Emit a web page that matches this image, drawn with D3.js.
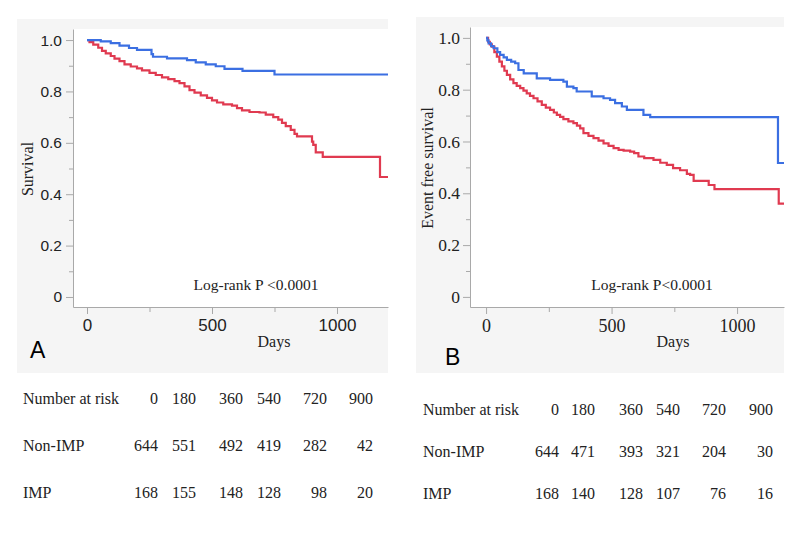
<!DOCTYPE html>
<html lang="en">

<head>
	<title>Kaplan-Meier curves</title>
	<meta charset="utf-8">
	<script src="https://d3js.org/d3.v7.min.js"></script>
	<style>
		body {
			margin: 0;
			background: #fff;
		}

		svg {
			display: block;
		}

		.serif {
			font-family: "Liberation Serif", "Times New Roman", serif;
			fill: #222;
		}

		.sans {
			font-family: "Liberation Sans", Arial, sans-serif;
			fill: #222;
		}

		.axis path,
		.axis line {
			stroke: #a9a9a9;
			stroke-width: 1;
		}

		.axis-b text {
			font-family: "Liberation Serif", "Times New Roman", serif !important;
		}
	</style>
</head>

<body>
	<div id="chart"></div>
	<script>
		// Data
		const panelLetters = ["A", "B"];
		const yTitles = ["Survival", "Event free survival"];
		const pLabels = ["Log-rank P <0.0001", "Log-rank P<0.0001"];
		const xTitle = "Days";
		const yTicks = [0, 0.2, 0.4, 0.6, 0.8, 1.0];
		const yMinorTicks = [0.1, 0.3, 0.5, 0.7, 0.9];
		const xTicks = [0, 500, 1000];
		const xMinorTicks = [250, 750];

		const riskTitle = "Number at risk";
		const riskGroups = ["Non-IMP", "IMP"];
		const riskDays = [0, 180, 360, 540, 720, 900];
		const riskNonImpA = [644, 551, 492, 419, 282, 42];
		const riskImpA = [168, 155, 148, 128, 98, 20];
		const riskNonImpB = [644, 471, 393, 321, 204, 30];
		const riskImpB = [168, 140, 128, 107, 76, 16];

		// [day, survival] steps
		const blueA = [[0, 1.000], [55, 0.995], [95, 0.988], [130, 0.978], [168, 0.969], [200, 0.962], [258, 0.945], [264, 0.935], [320, 0.929], [400, 0.922], [435, 0.913], [475, 0.905], [515, 0.898], [550, 0.888], [622, 0.880], [750, 0.866], [1204, 0.866]];
		const redA = [[0, 1.000], [10, 0.992], [25, 0.982], [45, 0.970], [60, 0.958], [75, 0.948], [95, 0.938], [110, 0.928], [130, 0.918], [150, 0.905], [175, 0.897], [200, 0.890], [220, 0.882], [250, 0.872], [275, 0.864], [300, 0.855], [325, 0.848], [350, 0.840], [370, 0.832], [390, 0.820], [410, 0.805], [430, 0.795], [455, 0.785], [480, 0.775], [500, 0.765], [520, 0.757], [545, 0.750], [580, 0.745], [600, 0.735], [620, 0.726], [650, 0.720], [690, 0.718], [715, 0.710], [745, 0.700], [765, 0.690], [780, 0.678], [795, 0.665], [815, 0.650], [830, 0.635], [840, 0.625], [900, 0.605], [905, 0.592], [915, 0.563], [943, 0.545], [1172, 0.467], [1204, 0.467]];
		const blueB = [[0, 1.000], [5, 0.990], [10, 0.979], [20, 0.968], [30, 0.960], [45, 0.945], [56, 0.934], [70, 0.925], [83, 0.915], [100, 0.908], [116, 0.902], [129, 0.876], [150, 0.863], [202, 0.844], [255, 0.838], [308, 0.831], [322, 0.812], [348, 0.806], [361, 0.793], [421, 0.774], [468, 0.767], [494, 0.761], [514, 0.748], [541, 0.735], [561, 0.722], [627, 0.703], [654, 0.694], [1163, 0.517], [1187, 0.517]];
		const redB = [[0, 1.000], [8, 0.985], [15, 0.975], [23, 0.966], [33, 0.945], [43, 0.928], [53, 0.908], [63, 0.890], [73, 0.873], [83, 0.857], [96, 0.840], [109, 0.825], [122, 0.815], [136, 0.806], [149, 0.796], [162, 0.786], [175, 0.776], [189, 0.767], [205, 0.755], [222, 0.741], [238, 0.731], [255, 0.722], [270, 0.712], [282, 0.703], [295, 0.695], [308, 0.686], [328, 0.678], [348, 0.671], [362, 0.661], [375, 0.651], [388, 0.632], [408, 0.622], [428, 0.613], [448, 0.603], [468, 0.593], [488, 0.583], [508, 0.574], [528, 0.568], [548, 0.565], [574, 0.561], [590, 0.555], [607, 0.542], [630, 0.536], [667, 0.529], [694, 0.518], [720, 0.510], [745, 0.497], [773, 0.489], [800, 0.475], [813, 0.471], [827, 0.448], [887, 0.432], [910, 0.416], [1166, 0.360], [1187, 0.360]];

		const blue = "#3b6fe2";
		const red = "#e03a50";

		// Layout of both panels
		const panels = [
			{
				bg: { x: 17, y: 19, w: 371, h: 354 },
				plot: { left: 73, top: 29, right: 388, bottom: 307 },
				xDomain: [-56, 1204], yDomain: [-0.039, 1.043],
				curves: [redA, blueA],
				risk: [riskNonImpA, riskImpA],
				riskCols: [158, 196, 243, 281, 327, 373],
				riskLeft: 23, riskRows: [404, 451, 498],
				axisClass: "axis axis-a", yTickSize: 15.5, xTickSize: 17,
				yTitleX: 33, yTitleY: 169,
				letter: { x: 30, y: 358 },
				pX: 256, daysX: 274
			},
			{
				bg: { x: 416, y: 17, w: 368, h: 356 },
				plot: { left: 470, top: 27, right: 784, bottom: 307 },
				xDomain: [-64, 1187], yDomain: [-0.039, 1.042],
				curves: [redB, blueB],
				risk: [riskNonImpB, riskImpB],
				riskCols: [559, 595, 643, 680, 726, 773],
				riskLeft: 423, riskRows: [415, 457, 499],
				axisClass: "axis axis-b", yTickSize: 17.5, xTickSize: 18,
				yTitleX: 433, yTitleY: 168,
				letter: { x: 445, y: 365 },
				pX: 652, daysX: 673
			}
		];

		// Draw canvas
		const svg = d3.select("#chart")
			.append("svg")
			.attr("width", 800)
			.attr("height", 533);

		panels.forEach((p, index) => {
			const g = svg.append("g");

			g.append("rect")
				.attr("x", p.bg.x)
				.attr("y", p.bg.y)
				.attr("width", p.bg.w)
				.attr("height", p.bg.h)
				.attr("fill", "#f5f5f5");

			g.append("rect")
				.attr("x", p.plot.left)
				.attr("y", p.plot.top)
				.attr("width", p.plot.right - p.plot.left)
				.attr("height", p.plot.bottom - p.plot.top)
				.attr("fill", "#fff");

			// Create scales
			const x = d3.scaleLinear()
				.domain(p.xDomain)
				.range([p.plot.left, p.plot.right]);

			const y = d3.scaleLinear()
				.domain(p.yDomain)
				.range([p.plot.bottom, p.plot.top]);

			// Axes
			const yAxis = g.append("g")
				.attr("class", p.axisClass)
				.attr("transform", `translate(${p.plot.left},0)`)
				.call(d3.axisLeft(y)
					.tickValues(yTicks)
					.tickSize(7)
					.tickSizeOuter(0)
					.tickPadding(index === 0 ? 4 : 3)
					.tickFormat(d => d === 0 ? "0" : d3.format(".1f")(d)));

			yAxis.attr("font-family", index === 0 ? "Liberation Sans, Arial, sans-serif" : "Liberation Serif, Times New Roman, serif");

			yAxis.selectAll("text")
				.style("font-size", p.yTickSize + "px")
				.attr("fill", "#222");

			g.append("g")
				.attr("class", "axis")
				.attr("transform", `translate(${p.plot.left},0)`)
				.call(d3.axisLeft(y).tickValues(yMinorTicks).tickSize(4).tickFormat(""))
				.select(".domain").remove();

			const xAxis = g.append("g")
				.attr("class", p.axisClass)
				.attr("transform", `translate(0,${p.plot.bottom})`)
				.call(d3.axisBottom(x)
					.tickValues(xTicks)
					.tickSize(7)
					.tickSizeOuter(0)
					.tickPadding(5)
					.tickFormat(d3.format("d")));

			xAxis.attr("font-family", index === 0 ? "Liberation Sans, Arial, sans-serif" : "Liberation Serif, Times New Roman, serif");

			xAxis.selectAll("text")
				.style("font-size", p.xTickSize + "px")
				.attr("fill", "#222");

			g.append("g")
				.attr("class", "axis")
				.attr("transform", `translate(0,${p.plot.bottom})`)
				.call(d3.axisBottom(x).tickValues(xMinorTicks).tickSize(5).tickFormat(""))
				.select(".domain").remove();

			// Draw curves
			const line = d3.line()
				.x(d => x(d[0]))
				.y(d => y(d[1]))
				.curve(d3.curveStepAfter);

			p.curves.forEach((c, i) => {
				g.append("path")
					.datum(c)
					.attr("d", line)
					.attr("fill", "none")
					.attr("stroke", i === 0 ? red : blue)
					.attr("stroke-width", 2.2)
					.attr("stroke-linejoin", "miter");
			});

			// Labels
			g.append("text")
				.attr("class", "serif")
				.attr("transform", `translate(${p.yTitleX},${p.yTitleY}) rotate(-90)`)
				.attr("text-anchor", "middle")
				.style("font-size", "16px")
				.text(yTitles[index]);

			g.append("text")
				.attr("class", "serif")
				.attr("x", p.daysX)
				.attr("y", 347)
				.attr("text-anchor", "middle")
				.style("font-size", "16px")
				.text(xTitle);

			g.append("text")
				.attr("class", "serif")
				.attr("x", p.pX)
				.attr("y", 290)
				.attr("text-anchor", "middle")
				.style("font-size", "15.5px")
				.text(pLabels[index]);

			g.append("text")
				.attr("class", "sans")
				.attr("x", p.letter.x)
				.attr("y", p.letter.y)
				.style("font-size", "23px")
				.style("fill", "#000")
				.text(panelLetters[index]);

			// Number at risk table
			const col = d3.scaleOrdinal()
				.domain(riskDays)
				.range(p.riskCols);

			const rows = [
				{ label: riskTitle, values: riskDays },
				{ label: riskGroups[0], values: p.risk[0] },
				{ label: riskGroups[1], values: p.risk[1] }
			];

			rows.forEach((r, ri) => {
				g.append("text")
					.attr("class", "serif")
					.attr("x", p.riskLeft)
					.attr("y", p.riskRows[ri])
					.style("font-size", "16px")
					.text(r.label);

				g.selectAll(null)
					.data(r.values)
					.join("text")
					.attr("class", "serif")
					.attr("x", (d, i) => col(riskDays[i]))
					.attr("y", p.riskRows[ri])
					.attr("text-anchor", "end")
					.style("font-size", "16px")
					.text(d => d);
			});
		});
	</script>
</body>

</html>
